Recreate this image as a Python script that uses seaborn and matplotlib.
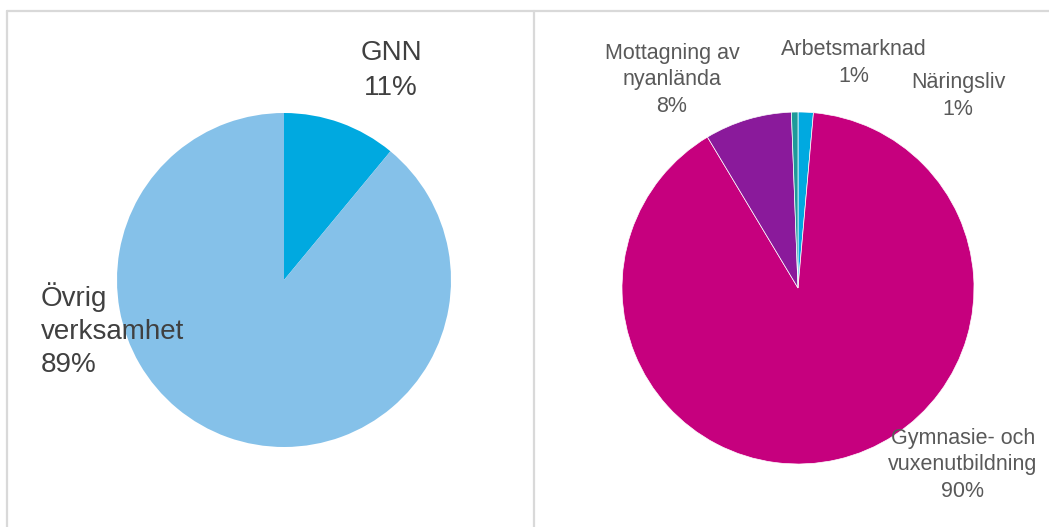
import matplotlib
matplotlib.use("Agg")
import matplotlib.pyplot as plt
from matplotlib.lines import Line2D
import seaborn as sns

# ---- data ----
left_labels = ["GNN", "Övrig verksamhet"]
left_values = [11.0, 89.0]
left_colors = ["#00A9E0", "#85C1E9"]

right_labels = ["Näringsliv", "Gymnasie- och vuxenutbildning",
                "Mottagning av nyanlända", "Arbetsmarknad"]
right_values = [1.4, 90.0, 8.0, 0.6]
right_colors = ["#00A9E0", "#C6007E", "#8A1A9B", "#1E9A9A"]

sns.set_theme(style="white")
plt.rcParams["font.family"] = ["Liberation Sans", "DejaVu Sans"]

W, H = 1049, 527
fig = plt.figure(figsize=(W / 100, H / 100), dpi=100)
fig.patch.set_facecolor("white")


def make_ax(cx, cy, r):
    ax = fig.add_axes([(cx - r) / W, 1 - (cy + r) / H, 2 * r / W, 2 * r / H])
    return ax


def px(cx, cy, r, x, y):
    return (x - cx) / r, (cy - y) / r


# ---- left pie ----
lcx, lcy, lr = 284, 280, 167
ax1 = make_ax(lcx, lcy, lr)
ax1.pie(left_values, colors=left_colors, startangle=90, counterclock=False,
        radius=1, wedgeprops=dict(linewidth=0))
ax1.set_xlim(-1, 1)
ax1.set_ylim(-1, 1)
ax1.axis("off")

left_text = [
    (f"{left_labels[0]}\n{left_values[0]:.0f}%", 391, 95, "center", 1.45),
    (f"Övrig\nverksamhet\n{left_values[1]:.0f}%", 41, 372, "left", 1.35),
]
for txt, x, y, ha, ls in left_text:
    dx, dy = px(lcx, lcy, lr, x, y)
    ax1.text(dx, dy, txt, ha=ha, va="baseline", fontsize=20, color="#404040",
             linespacing=ls, multialignment=ha, clip_on=False)

# ---- right pie ----
rcx, rcy, rr = 798, 288, 176
ax2 = make_ax(rcx, rcy, rr)
ax2.pie(right_values, colors=right_colors, startangle=90, counterclock=False,
        radius=1, wedgeprops=dict(linewidth=0.5, edgecolor="white"))
ax2.set_xlim(-1, 1)
ax2.set_ylim(-1, 1)
ax2.axis("off")

right_text = [
    (f"Näringsliv\n{right_values[0]:.0f}%", 958, 115),
    (f"Gymnasie- och\nvuxenutbildning\n{right_values[1]:.0f}%", 963, 497),
    (f"Mottagning av\nnyanlända\n{right_values[2]:.0f}%", 672, 112),
    (f"Arbetsmarknad\n{right_values[3]:.0f}%", 854, 82),
]
for txt, x, y in right_text:
    dx, dy = px(rcx, rcy, rr, x, y)
    ax2.text(dx, dy, txt, ha="center", va="baseline", fontsize=15.5,
             color="#595959", linespacing=1.35, multialignment="center",
             clip_on=False)

# ---- panel borders ----
bc = "#D9D9D9"
def fl(x0, y0, x1, y1):
    fig.add_artist(Line2D([x0 / W, x1 / W], [1 - y0 / H, 1 - y1 / H],
                          transform=fig.transFigure, color=bc, linewidth=1.6))

fl(7, 11, W, 11)
fl(7, 11, 7, H)
fl(534, 11, 534, H)

fig.savefig("out.png", dpi=100, facecolor="white")
